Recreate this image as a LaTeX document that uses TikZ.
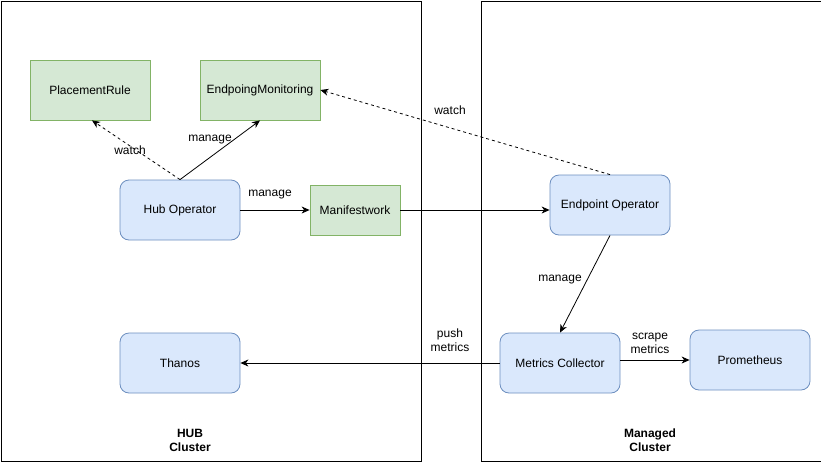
\documentclass[tikz,border=0pt]{standalone}
\usepackage{fontspec}
\setmainfont{Liberation Sans}
\usetikzlibrary{arrows.meta}
\definecolor{gfill}{HTML}{D5E8D4}
\definecolor{gline}{HTML}{82B366}
\definecolor{bfill}{HTML}{DAE8FC}
\definecolor{bline}{HTML}{6C8EBF}
\tikzset{
  gbox/.style={draw=gline, fill=gfill, line width=0.8pt, minimum width=120pt, minimum height=60pt, inner sep=0pt},
  bbox/.style={draw=bline, fill=bfill, line width=0.8pt, rounded corners=9pt, minimum width=120pt, minimum height=60pt, inner sep=0pt},
  cluster/.style={draw=black, line width=1pt, anchor=north west, inner sep=0pt},
  conn/.style={line width=0.8pt, -{Stealth[length=8pt,width=7pt,inset=2.5pt]}},
  dconn/.style={conn, dash pattern=on 3pt off 3pt},
  lbl/.style={inner sep=0pt, align=center, font=\fontsize{12}{14}\selectfont},
  clbl/.style={inner sep=0pt, align=center, font=\fontsize{12}{14}\selectfont\bfseries}
}
\begin{document}
\begin{tikzpicture}[x=1pt,y=-1pt, font=\fontsize{12}{14}\selectfont]
\useasboundingbox (0,0) rectangle (821,461);
\node[cluster, minimum width=420pt, minimum height=460pt] (hub) at (0.5,0.5) {};
\node[cluster, minimum width=340pt, minimum height=460pt] (managed) at (480.5,0.5) {};
\node[clbl] (hublbl) at (190,440) {HUB\\Cluster};
\node[clbl] (mlbl) at (650,440) {Managed\\Cluster};

\node[gbox] (pr) at (90,90) {PlacementRule};
\node[gbox] (em) at (260,90) {EndpoingMonitoring};
\node[bbox] (ho) at (180,210) {Hub Operator};
\node[gbox, minimum width=90pt, minimum height=50pt] (mw) at (355,210) {Manifestwork};
\node[bbox] (eo) at (610,205) {Endpoint Operator};
\node[bbox] (th) at (180,363) {Thanos};
\node[bbox] (mc) at (560,363) {Metrics Collector};
\node[bbox] (pm) at (750,360) {Prometheus};

\draw[dconn] (ho.north) -- ([xshift=2pt]pr.south);
\draw[conn] (ho.north) -- (em.south);
\draw[conn] (ho.east) -- (mw.west);
\draw[conn] (mw.east) -- (mw.east -| eo.west);
\draw[dconn] (eo.north) -- (em.east);
\draw[conn] (eo.south) -- (mc.north);
\draw[conn] (mc.west) -- (th.east);
\draw[conn] (mc.east |- pm.west) -- (pm.west);

\node[lbl] (l1) at (130,150) {watch};
\node[lbl] (l2) at (210,140) {manage};
\node[lbl] (l3) at (270,195) {manage};
\node[lbl] (l4) at (450,110) {watch};
\node[lbl] (l5) at (560,280) {manage};
\node[lbl] (l6) at (450,340) {push\\metrics};
\node[lbl] (l7) at (650,343) {scrape\\metrics};
\end{tikzpicture}
\end{document}
